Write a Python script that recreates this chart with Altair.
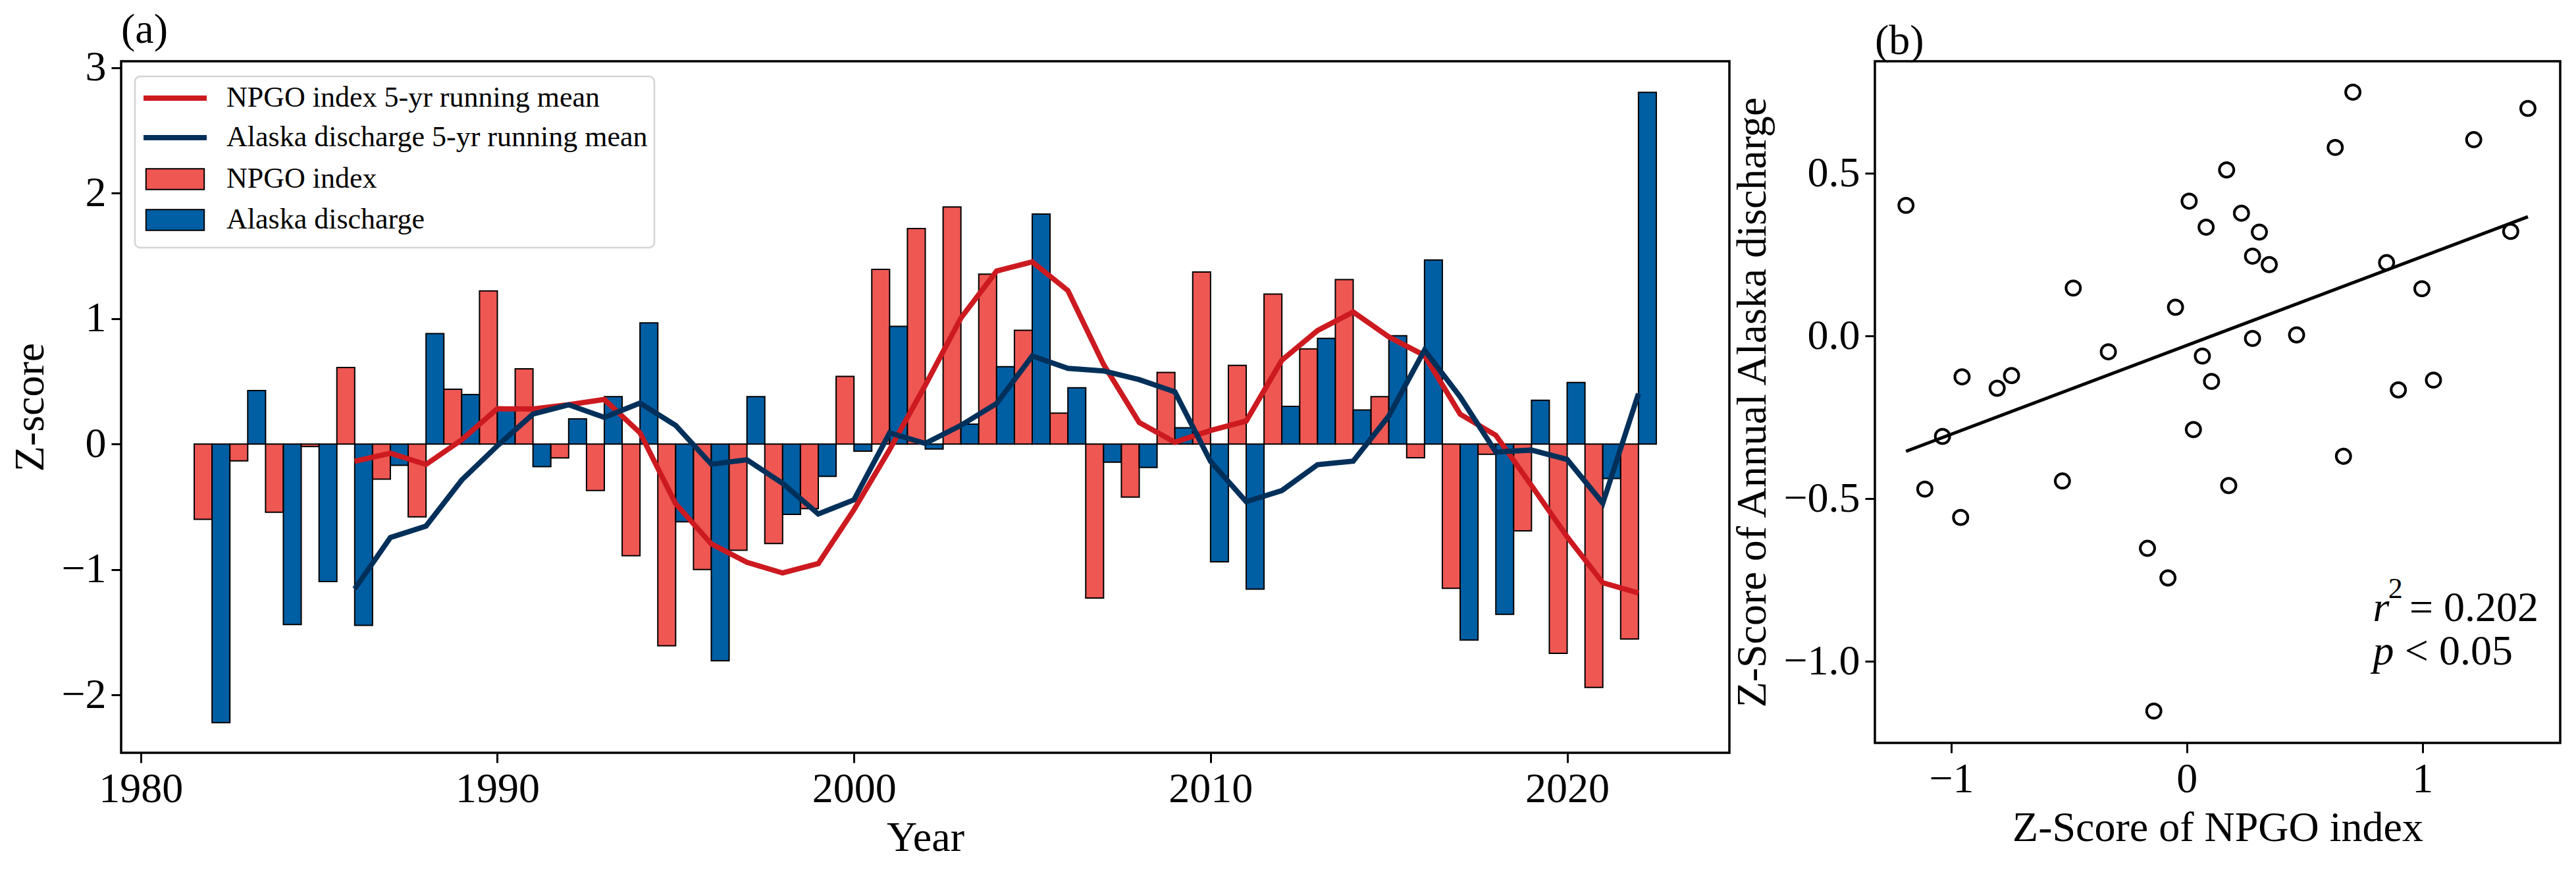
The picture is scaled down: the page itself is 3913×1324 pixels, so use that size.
import altair as alt
import pandas as pd

# ---------------- data ----------------
YEARS = list(range(1982, 2023))
NPGO = [-0.60, -0.134, -0.543, -0.02, 0.61, -0.28, -0.58, 0.437, 1.22, 0.60,
        -0.11, -0.37, -0.89, -1.607, -1.00, -0.846, -0.793, -0.515, 0.539, 1.392,
        1.717, 1.889, 1.354, 0.906, 0.247, -1.227, -0.423, 0.571, 1.371, 0.627,
        1.195, 0.758, 1.311, 0.377, -0.109, -1.149, -0.081, -0.691, -1.667, -1.939,
        -1.554]
ALASKA = [-2.22, 0.426, -1.438, -1.096, -1.445, -0.17, 0.88, 0.395, 0.27, -0.18,
          0.20, 0.377, 0.966, -0.62, -1.727, 0.377, -0.56, -0.257, -0.056, 0.938,
          -0.04, 0.159, 0.617, 1.833, 0.448, -0.145, -0.187, 0.13, -0.938, -1.156,
          0.30, 0.842, 0.271, 0.863, 1.466, -1.562, -1.357, 0.349, 0.49, -0.275,
          2.802]

SC_X = [-1.192, -1.112, -1.037, -0.960, -0.954, -0.805, -0.744, -0.528, -0.482, -0.333,
        -0.167, -0.140, -0.080, -0.048, 0.010, 0.028, 0.066, 0.082, 0.105, 0.169,
        0.178, 0.232, 0.279, 0.279, 0.308, 0.350, 0.466, 0.630, 0.665, 0.705,
        0.848, 0.898, 0.998, 1.047, 1.218, 1.375, 1.448]
SC_Y = [0.402, -0.470, -0.308, -0.557, -0.125, -0.160, -0.121, -0.445, 0.148, -0.048,
        -0.652, -1.152, -0.743, 0.089, 0.415, -0.287, -0.061, 0.335, -0.139, 0.511,
        -0.459, 0.378, 0.246, -0.007, 0.320, 0.220, 0.004, 0.580, -0.369, 0.750,
        0.226, -0.165, 0.146, -0.135, 0.604, 0.322, 0.700]

X_TICKS_A = [1980, 1990, 2000, 2010, 2020]
Y_TICKS_A = [-2, -1, 0, 1, 2, 3]
X_TICKS_B = [-1, 0, 1]
Y_TICKS_B = [-1.0, -0.5, 0.0, 0.5]

LINE_SERIES = ["NPGO index 5-yr running mean", "Alaska discharge 5-yr running mean"]
LINE_COLORS = ["#CC1A20", "#00305A"]
BAR_SERIES = ["NPGO index", "Alaska discharge"]
BAR_COLORS = ["#EF5753", "#005EA3"]

FONT = "Liberation Serif"
FS = 64
LFS = 44

# ---------------- panel (a) ----------------
df = pd.DataFrame({"year": YEARS, "npgo": NPGO, "alaska": ALASKA})

xscale_a = alt.Scale(domain=[1979.45, 2024.55], nice=False, zero=False)
yscale_a = alt.Scale(domain=[-2.46, 3.05], nice=False, zero=False)
xaxis_a = alt.Axis(values=X_TICKS_A, format="d", title="Year", titlePadding=10)
yaxis_a = alt.Axis(values=Y_TICKS_A, format="d", title="Z-score", titlePadding=14)

line_legend = alt.Legend(
    title=None, orient="none", legendX=30, legendY=32, padding=0,
    labelFont=FONT, labelFontSize=LFS, labelColor="black", labelLimit=0,
    symbolType="M-2.4,0H2.4", symbolSize=1600, symbolStrokeWidth=8,
    rowPadding=14, symbolOffset=28, labelOffset=54,
)
bar_legend = alt.Legend(
    title=None, orient="none", legendX=30, legendY=157, padding=0,
    labelFont=FONT, labelFontSize=LFS, labelColor="black", labelLimit=0,
    symbolType="M-2.21,-0.79H2.21V0.79H-2.21Z", symbolSize=1600,
    symbolStrokeWidth=2, symbolStrokeColor="black",
    rowPadding=18, symbolOffset=30, labelOffset=56,
)

frame_box = alt.Chart(alt.Data(values=[{}])).mark_rect(
    fill="white", stroke="#d4d4d4", strokeWidth=2.5, cornerRadius=8
).encode(x=alt.value(21), x2=alt.value(810), y=alt.value(23), y2=alt.value(283))

bars = alt.Chart(df).transform_fold(
    ["npgo", "alaska"], as_=["key", "value"]
).transform_calculate(
    series="datum.key == 'npgo' ? 'NPGO index' : 'Alaska discharge'",
    x0="datum.key == 'npgo' ? datum.year - 0.5 : datum.year",
    x1="datum.key == 'npgo' ? datum.year : datum.year + 0.5",
    base="0",
).mark_bar(stroke="black", strokeWidth=2, opacity=1).encode(
    x=alt.X("x0:Q", scale=xscale_a, axis=xaxis_a),
    x2="x1:Q",
    y=alt.Y("value:Q", scale=yscale_a, axis=yaxis_a),
    y2="base:Q",
    fill=alt.Fill("series:N", scale=alt.Scale(domain=BAR_SERIES, range=BAR_COLORS),
                  legend=bar_legend),
)

lines = alt.Chart(df).transform_window(
    window=[{"op": "mean", "field": "npgo", "as": "npgo_rm"},
            {"op": "mean", "field": "alaska", "as": "alaska_rm"},
            {"op": "count", "as": "n"}],
    frame=[-4, 0], sort=[{"field": "year"}],
).transform_filter("datum.n == 5").transform_fold(
    ["npgo_rm", "alaska_rm"], as_=["key", "value"]
).transform_calculate(
    series="datum.key == 'npgo_rm' ? 'NPGO index 5-yr running mean' : 'Alaska discharge 5-yr running mean'"
).mark_line(strokeWidth=8).encode(
    x=alt.X("year:Q", scale=xscale_a, axis=xaxis_a),
    y=alt.Y("value:Q", scale=yscale_a, axis=yaxis_a),
    stroke=alt.Stroke("series:N", scale=alt.Scale(domain=LINE_SERIES, range=LINE_COLORS),
                      legend=line_legend),
)

panel_a = alt.layer(frame_box, bars, lines).properties(
    width=2443, height=1050,
    title=alt.TitleParams(text="(a)", anchor="start", frame="group", fontSize=FS,
                          font=FONT, fontWeight="normal", color="black", offset=-7),
)

# ---------------- panel (b) ----------------
sc = pd.DataFrame({"x": SC_X, "y": SC_Y})
xscale_b = alt.Scale(domain=[-1.324, 1.585], nice=False, zero=False)
yscale_b = alt.Scale(domain=[-1.25, 0.845], nice=False, zero=False)
xaxis_b = alt.Axis(values=X_TICKS_B, format="d", title="Z-Score of NPGO index", titlePadding=10)
yaxis_b = alt.Axis(values=Y_TICKS_B, format=".1f", title="Z-Score of Annual Alaska discharge",
                   titlePadding=14)

pts = alt.Chart(sc).mark_point(shape="circle", filled=False, color="black",
                               strokeWidth=4, size=480, opacity=1).encode(
    x=alt.X("x:Q", scale=xscale_b, axis=xaxis_b),
    y=alt.Y("y:Q", scale=yscale_b, axis=yaxis_b),
)
reg = alt.Chart(sc).transform_regression("x", "y").mark_line(
    color="black", strokeWidth=5).encode(
    x=alt.X("x:Q", scale=xscale_b, axis=xaxis_b),
    y=alt.Y("y:Q", scale=yscale_b, axis=yaxis_b),
)

one = alt.Data(values=[{}])
def note(txt, x, y, size=FS, style="normal"):
    return alt.Chart(one).mark_text(
        text=txt, align="left", baseline="alphabetic", font=FONT, fontSize=size,
        fontStyle=style, color="black").encode(x=alt.datum(x), y=alt.datum(y))

notes = [
    note("r", 0.79, -0.876, style="italic"),
    note("2", 0.855, -0.805, size=44),
    note("= 0.202", 0.945, -0.876),
    note("p", 0.79, -1.009, style="italic"),
    note("< 0.05", 0.925, -1.009),
]

panel_b = alt.layer(pts, reg, *notes).properties(
    width=1041, height=1035,
    title=alt.TitleParams(text="(b)", anchor="start", frame="group", fontSize=FS,
                          font=FONT, fontWeight="normal", color="black", offset=-2),
)

chart = alt.hconcat(panel_a, panel_b, spacing=0).resolve_scale(
    stroke="independent", fill="independent"
).properties(
    padding={"left": 5, "top": 3, "right": 5, "bottom": 5}
).configure(font=FONT).configure_view(
    stroke="black", strokeWidth=3.5
).configure_axis(
    labelFont=FONT, titleFont=FONT, labelFontSize=FS, titleFontSize=FS,
    labelColor="black", titleColor="black", titleFontWeight="normal",
    tickSize=15, tickWidth=3, tickColor="black", labelPadding=8,
    grid=False, domain=False,
)

chart.save("out.html", embed_options={"renderer": "svg", "actions": False})
